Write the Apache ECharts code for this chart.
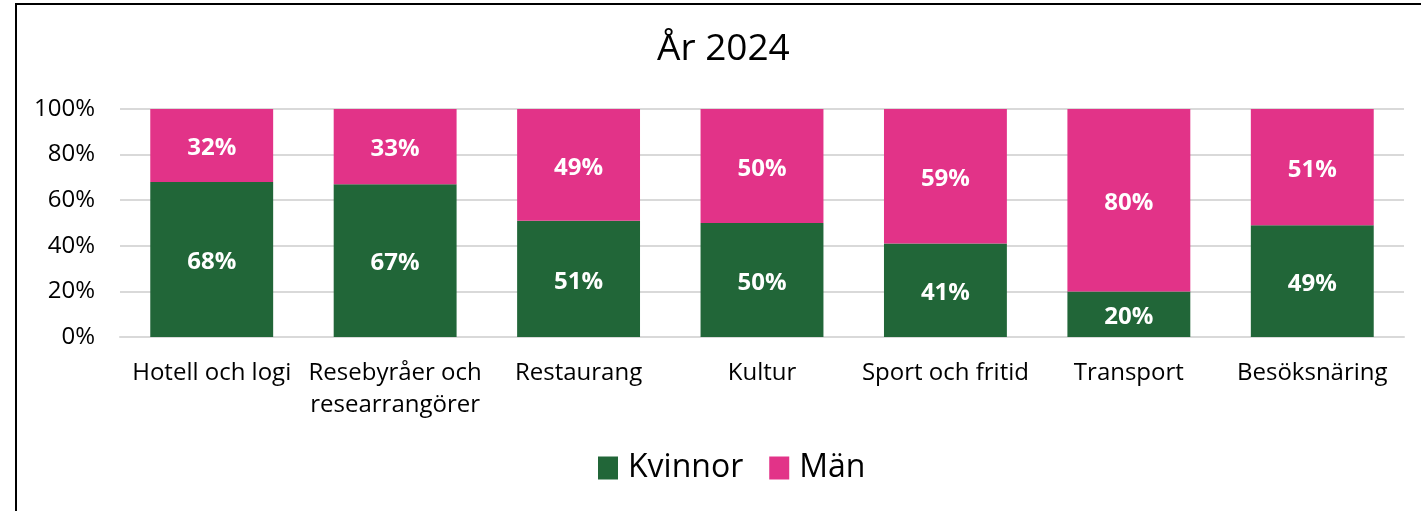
<!DOCTYPE html>
<html><head><meta charset="utf-8">
<script src="https://cdn.jsdelivr.net/npm/echarts@6/dist/echarts.min.js"></script>
<style>html,body{margin:0;padding:0;background:#fff}#c{width:1421px;height:511px}</style>
</head><body><div id="c"></div>
<script>
const categories = ['Hotell och logi','Resebyråer och\nresearrangörer','Restaurang','Kultur','Sport och fritid','Transport','Besöksnäring'];
const kvinnor = [68,67,51,50,41,20,49];
const man = [32,33,49,50,59,80,51];
const yTicks = [0,20,40,60,80,100];
const FONT = '"Open Sans", sans-serif';
const chart = echarts.init(document.getElementById('c'));
const lbl = {show:true, position:'inside', offset:[0,3], color:'#fff', fontFamily:FONT, fontWeight:'bold', fontSize:24, formatter:p=>p.value+'%'};
chart.setOption({
  animation:false,
  graphic:[{type:'rect', shape:{x:16,y:4,width:1600,height:700}, style:{fill:'none', stroke:'#000', lineWidth:2}, z:-1}],
  title:{text:'År 2024', left:652, top:26, textStyle:{fontFamily:FONT, fontWeight:'normal', fontSize:37, color:'#000'}},
  legend:{bottom:22, left:593, itemWidth:20, itemHeight:23, itemGap:26, icon:'rect',
    textStyle:{fontFamily:FONT, fontSize:32, color:'#000', padding:[0,0,0,5]}, data:['Kvinnor','Män']},
  grid:{left:120, right:17, top:109, bottom:174},
  xAxis:{type:'category', data:categories,
    axisLine:{lineStyle:{color:'#d9d9d9', width:2}}, axisTick:{show:false},
    axisLabel:{fontFamily:FONT, fontSize:24, color:'#000', margin:20, lineHeight:32, interval:0}},
  yAxis:{type:'value', min:0, max:100, interval:20,
    axisLabel:{fontFamily:FONT, fontSize:24, color:'#000', margin:25, formatter:v=>yTicks.includes(v)?v+'%':''},
    splitLine:{lineStyle:{color:'#d9d9d9', width:2}}, axisLine:{show:false}, axisTick:{show:false}},
  series:[
    {name:'Kvinnor', type:'bar', stack:'s', data:kvinnor, barWidth:'67%', itemStyle:{color:'#216638'}, label:lbl},
    {name:'Män', type:'bar', stack:'s', data:man, barWidth:'67%', itemStyle:{color:'#E23388'}, label:lbl}
  ]
});
</script></body></html>
